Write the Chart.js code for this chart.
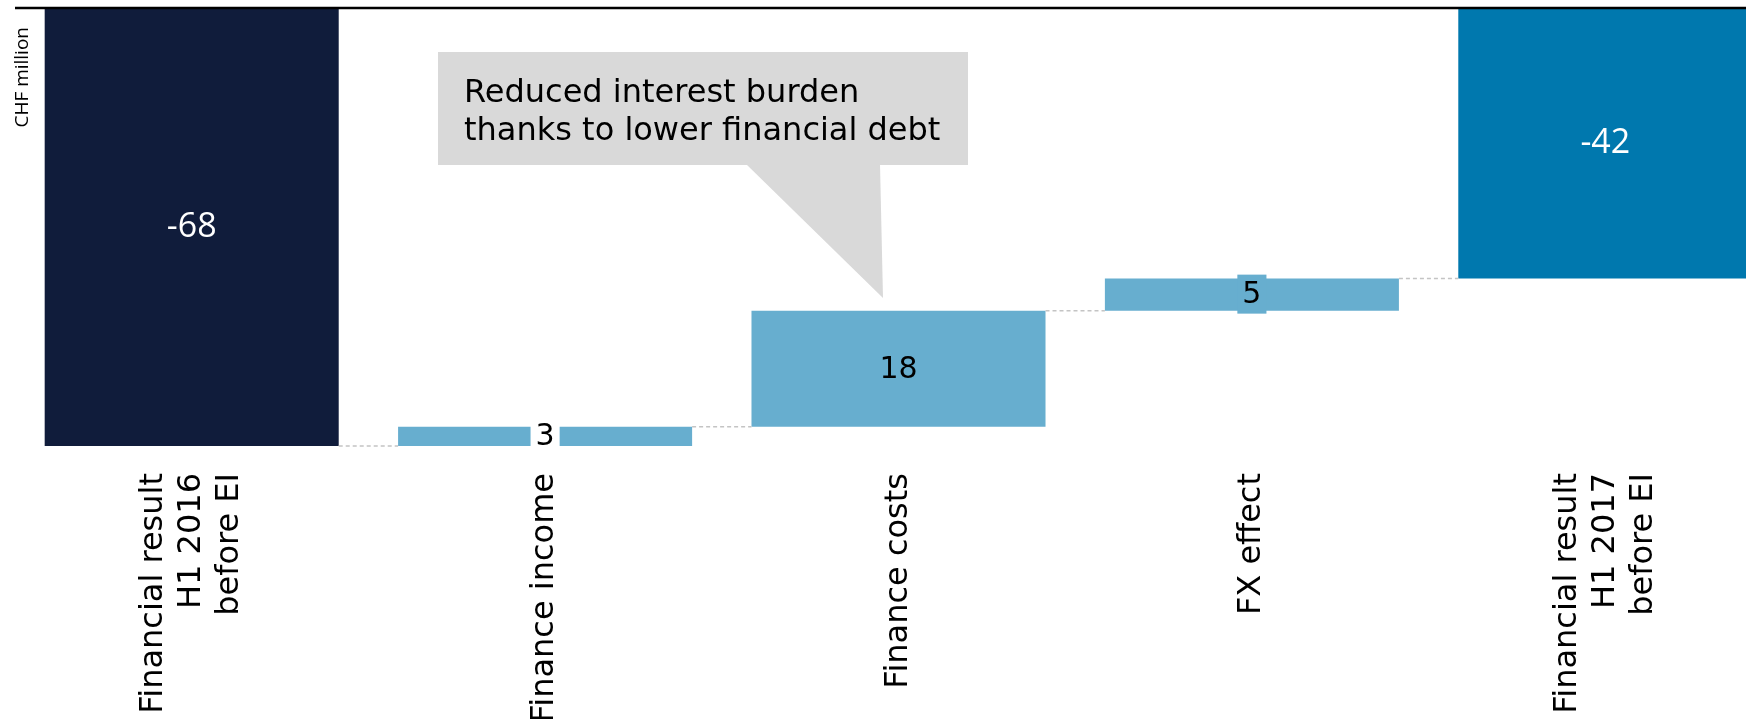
<!DOCTYPE html>
<html>
<head>
<meta charset="utf-8">
<title>Financial result bridge</title>
<script src="https://cdn.jsdelivr.net/npm/chart.js@4/dist/chart.umd.min.js"></script>
<style>
    html, body {
        margin: 0;
        padding: 0;
        background: #ffffff;
        overflow: hidden;
    }
</style>
</head>
<body>
<canvas id="bridgeChart" width="1782" height="719"></canvas>
<script>
// bridge from H1 2016 to H1 2017 financial result (CHF million)
const categories = [
    ['Financial result', 'H1 2016', 'before EI'],
    'Finance income',
    'Finance costs',
    'FX effect',
    ['Financial result', 'H1 2017', 'before EI']
];
const startTotal = -68;
const changes = [3, 18, 5];
const endTotal = -42;

const NAVY = '#101c3b';
const LIGHT = '#67aecf';
const BLUE = '#0078ae';

// floating ranges for each step of the bridge
const ranges = [[0, startTotal]];
const levels = [startTotal];
let running = startTotal;
changes.forEach(c => {
    ranges.push([running, running + c]);
    running += c;
    levels.push(running);
});
ranges.push([0, endTotal]);

const valueTexts = [String(startTotal), ...changes.map(String), String(endTotal)];
const barColors = [NAVY, ...changes.map(() => LIGHT), BLUE];

const bridgeDecor = {
    id: 'bridgeDecor',
    afterDatasetsDraw(chart) {
        const ctx = chart.ctx;
        const area = chart.chartArea;
        const y = chart.scales.y;
        const bars = chart.getDatasetMeta(0).data;

        ctx.save();

        // zero line across the top
        ctx.strokeStyle = '#000000';
        ctx.lineWidth = 2.5;
        ctx.beginPath();
        ctx.moveTo(area.left, y.getPixelForValue(0));
        ctx.lineTo(chart.width, y.getPixelForValue(0));
        ctx.stroke();

        // dashed connectors between steps
        ctx.strokeStyle = '#c4c4c4';
        ctx.lineWidth = 1.5;
        ctx.setLineDash([4, 3]);
        levels.forEach((lvl, i) => {
            const a = bars[i], b = bars[i + 1];
            const py = y.getPixelForValue(lvl);
            ctx.beginPath();
            ctx.moveTo(a.x + a.width / 2, py);
            ctx.lineTo(b.x - b.width / 2, py);
            ctx.stroke();
        });
        ctx.setLineDash([]);

        // value labels
        ctx.textAlign = 'center';
        ctx.textBaseline = 'middle';
        bars.forEach((bar, i) => {
            const cy = (bar.y + bar.base) / 2;
            const isTotal = i === 0 || i === bars.length - 1;
            if (isTotal) {
                ctx.font = '34px "Open Sans", sans-serif';
                ctx.fillStyle = '#ffffff';
                ctx.fillText(valueTexts[i], bar.x, cy);
                return;
            }
            ctx.font = '30px "DejaVu Sans", sans-serif';
            const h = Math.abs(bar.base - bar.y);
            if (h < 40) {
                const w = ctx.measureText(valueTexts[i]).width + 10;
                ctx.fillStyle = i === 1 ? '#ffffff' : LIGHT;
                ctx.fillRect(bar.x - w / 2, cy - 20, w, 39);
            }
            ctx.fillStyle = '#000000';
            ctx.fillText(valueTexts[i], bar.x, cy + 1);
        });

        // category labels, rotated, block centred on each bar
        ctx.font = '32px "DejaVu Sans", sans-serif';
        ctx.fillStyle = '#000000';
        ctx.textAlign = 'right';
        ctx.textBaseline = 'middle';
        const lineH = 38;
        const labelTop = 473;
        categories.forEach((cat, i) => {
            const lines = Array.isArray(cat) ? cat : [cat];
            const x = chart.scales.x.getPixelForValue(i);
            lines.forEach((line, j) => {
                const off = (j - (lines.length - 1) / 2) * lineH;
                ctx.save();
                ctx.translate(x + off, labelTop);
                ctx.rotate(-Math.PI / 2);
                ctx.fillText(line, 0, 0);
                ctx.restore();
            });
        });

        // unit caption
        ctx.font = '19px "Open Sans", sans-serif';
        ctx.save();
        ctx.translate(23, 27);
        ctx.rotate(-Math.PI / 2);
        ctx.fillText('CHF million', 0, 0);
        ctx.restore();

        // callout on finance costs
        ctx.fillStyle = '#d9d9d9';
        ctx.fillRect(438, 52, 530, 113);
        ctx.beginPath();
        ctx.moveTo(746, 164);
        ctx.lineTo(883, 298);
        ctx.lineTo(880, 164);
        ctx.closePath();
        ctx.fill();
        ctx.fillStyle = '#000000';
        ctx.textAlign = 'left';
        ctx.textBaseline = 'alphabetic';
        ctx.font = '32px "DejaVu Sans", sans-serif';
        ctx.fillText('Reduced interest burden', 464, 102);
        ctx.fillText('thanks to lower financial debt', 464, 140);

        ctx.restore();
    }
};

new Chart(document.getElementById('bridgeChart'), {
    type: 'bar',
    data: {
        labels: categories,
        datasets: [{
            data: ranges,
            backgroundColor: barColors,
            borderWidth: 0,
            borderSkipped: false,
            barPercentage: 0.832,
            categoryPercentage: 1.0
        }]
    },
    options: {
        responsive: false,
        animation: false,
        layout: {
            padding: { left: 15, top: 8, right: 0, bottom: 273 }
        },
        plugins: {
            legend: { display: false },
            tooltip: { enabled: false }
        },
        scales: {
            x: { display: false },
            y: { display: false, min: startTotal, max: 0 }
        }
    },
    plugins: [bridgeDecor]
});
</script>
</body>
</html>
